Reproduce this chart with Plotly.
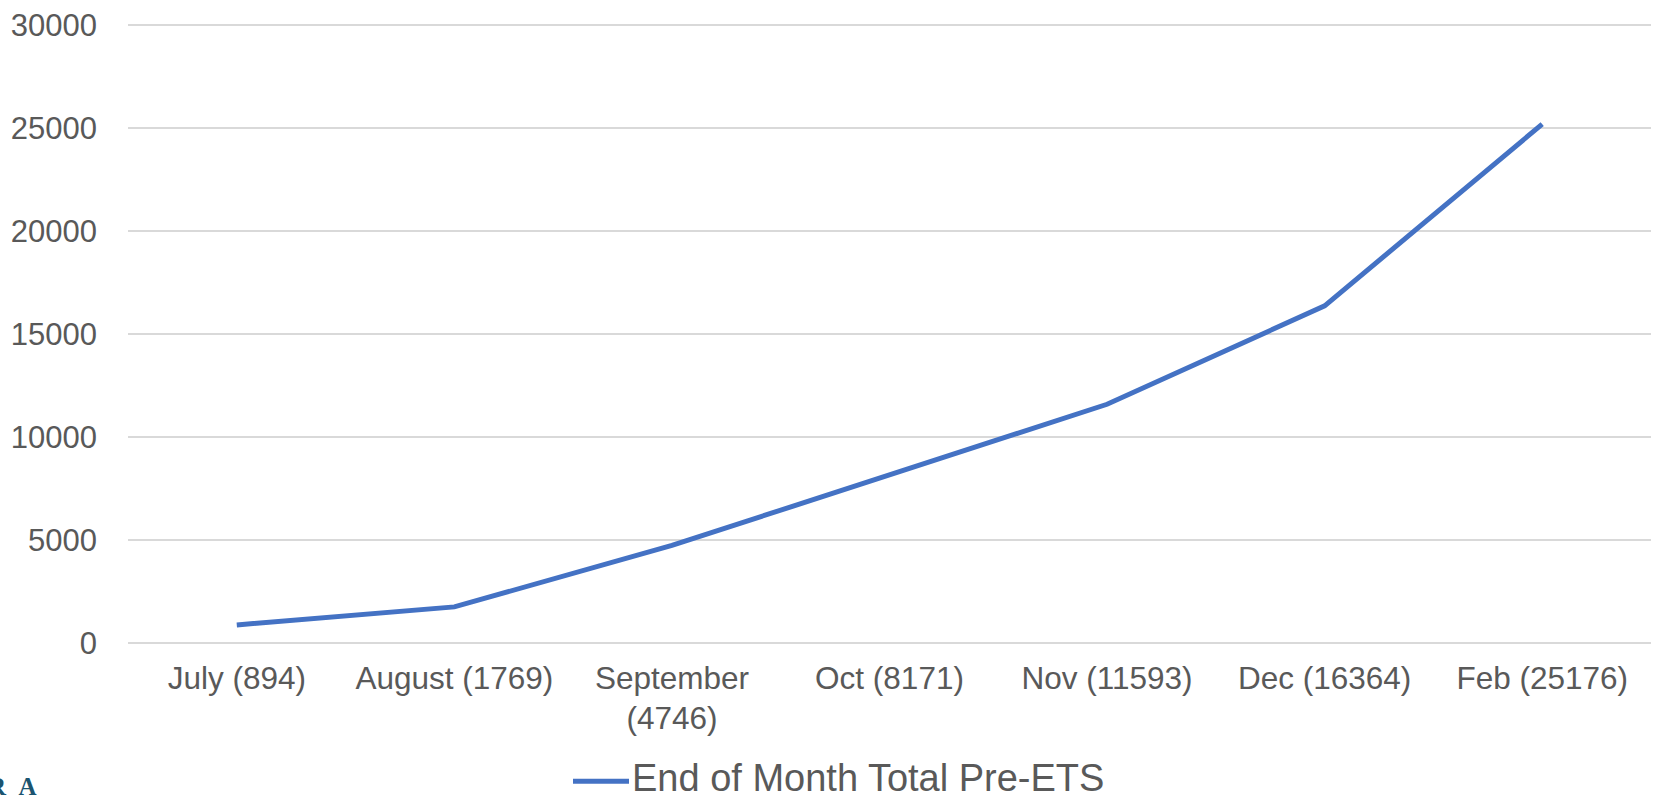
import plotly.graph_objects as go

categories = ["July (894)", "August (1769)", "September<br>(4746)", "Oct (8171)",
              "Nov (11593)", "Dec (16364)", "Feb (25176)"]
values = [894, 1769, 4746, 8171, 11593, 16364, 25176]
series_name = "End of Month Total Pre-ETS"
y_ticks = [0, 5000, 10000, 15000, 20000, 25000, 30000]

W, H = 1659, 798
Y_MAX = 30000
TOP_PX, ZERO_PX = 25.0, 643.3          # pixel rows of 30000 and 0 gridlines
PAD = 80                                # small range padding so end gridlines show
u = Y_MAX / (ZERO_PX - TOP_PX)          # data units per pixel
pad_px = PAD / u
ml, mr = 128, 8
mt, mb = TOP_PX - pad_px, H - ZERO_PX - pad_px
PW, PH = W - ml - mr, H - mt - mb


def px_x(p):
    return (p - ml) / PW


def px_y(p):
    return (H - mb - p) / PH


LINE_COLOR = "#4472C4"
TXT = "#595959"

fig = go.Figure()
fig.add_trace(go.Scatter(
    x=categories, y=values, mode="lines", name=series_name,
    line=dict(color=LINE_COLOR, width=5), showlegend=False,
))

fig.update_layout(
    width=W, height=H,
    margin=dict(l=ml, r=mr, t=mt, b=mb, autoexpand=False),
    paper_bgcolor="white", plot_bgcolor="white",
    font=dict(family="Liberation Sans, Arial, sans-serif", color=TXT, size=31),
    showlegend=False,
    xaxis=dict(type="category", range=[-0.5, 6.5], showgrid=False, zeroline=False,
               showline=False, ticks="", ticklabelstandoff=11, automargin=False,
               tickfont=dict(size=31.5, color=TXT)),
    yaxis=dict(range=[-PAD, Y_MAX + PAD], tickvals=y_ticks,
               ticktext=[str(v) for v in y_ticks],
               showgrid=True, gridcolor="#D9D9D9", gridwidth=1.5, zeroline=False,
               showline=False, ticks="", ticklabelstandoff=30, automargin=False,
               tickfont=dict(size=31, color=TXT)),
)

# legend drawn manually (long line sample as in the reference)
fig.add_shape(type="line", xref="paper", yref="paper",
              x0=px_x(573), x1=px_x(629), y0=px_y(781), y1=px_y(781),
              line=dict(color=LINE_COLOR, width=5))
fig.add_annotation(text=series_name, xref="paper", yref="paper",
                   x=px_x(630), xanchor="left", y=px_y(778), yanchor="middle",
                   showarrow=False, font=dict(size=38, color=TXT))

# partially visible logo at bottom-left corner
fig.add_annotation(text="<b>R&nbsp;&nbsp;A</b>", xref="paper", yref="paper",
                   x=px_x(39), xanchor="right", y=px_y(771), yanchor="top",
                   showarrow=False,
                   font=dict(family="Liberation Serif, serif", size=25, color="#1B5470"))

fig.write_html("out.html", config={"displayModeBar": False},
               post_script="document.body.style.margin='0';")
